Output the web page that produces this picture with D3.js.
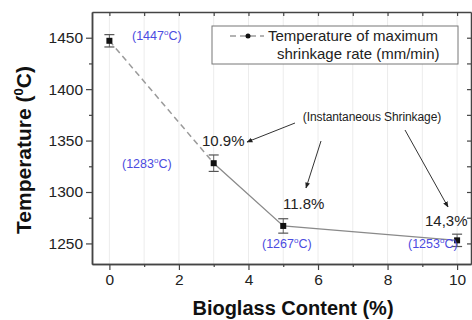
<!DOCTYPE html>
<html>
<head>
<meta charset="utf-8">
<script src="https://cdn.jsdelivr.net/npm/d3@7"></script>
<style>
  body { margin: 0; background: #fff; }
  text { font-family: "Liberation Sans", Arial, sans-serif; }
</style>
</head>
<body>
<script>
var width = 472,
    height = 320;

// data
var bioglass = [0, 3, 5, 10];
var temperature = [1447, 1328, 1267, 1253];
var errors = [6, 8, 7, 6];
var tempLabels = ['(1447', '(1283', '(1267', '(1253'];
var shrinkage = ['10.9%', '11.8%', '14,3%'];
var xTicks = [0, 2, 4, 6, 8, 10];
var yTicks = [1250, 1300, 1350, 1400, 1450];

var margin = {left: 92, top: 12, right: 1, bottom: 56};

var svg = d3.select('body')
  .append('svg')
  .attr('width', width)
  .attr('height', height);

var x = d3.scaleLinear()
  .domain([-0.5, 10.4])
  .range([margin.left, width - margin.right]);

var y = d3.scaleLinear()
  .domain([1230, 1475])
  .range([height - margin.bottom, margin.top]);

var axisColor = '#444';
var blue = '#4b4be0';

// faint grid
svg.append('g')
  .selectAll('line')
  .data(d3.range(0, 11, 1))
  .enter().append('line')
  .attr('x1', function(d) { return x(d); })
  .attr('x2', function(d) { return x(d); })
  .attr('y1', y.range()[0])
  .attr('y2', y.range()[1])
  .attr('stroke', '#ececec')
  .attr('stroke-width', 1);

// axes
svg.append('g')
  .attr('transform', 'translate(0,' + y.range()[0] + ')')
  .call(d3.axisBottom(x).tickValues(xTicks).tickSize(6).tickPadding(4).tickSizeOuter(0));
svg.append('g')
  .attr('transform', 'translate(0,' + y.range()[0] + ')')
  .call(d3.axisBottom(x).tickValues([1, 3, 5, 7, 9]).tickSize(3).tickFormat('').tickSizeOuter(0));

svg.append('g')
  .attr('transform', 'translate(' + margin.left + ',0)')
  .call(d3.axisLeft(y).tickValues(yTicks).tickSize(6).tickPadding(3).tickFormat(d3.format('d')).tickSizeOuter(0));
svg.append('g')
  .attr('transform', 'translate(' + margin.left + ',0)')
  .call(d3.axisLeft(y).tickValues([1275, 1325, 1375, 1425]).tickSize(3).tickFormat('').tickSizeOuter(0));

svg.append('g')
  .attr('transform', 'translate(0,' + margin.top + ')')
  .call(d3.axisTop(x).tickValues(d3.range(0, 11, 1)).tickSize(-4).tickFormat('').tickSizeOuter(0));
svg.append('g')
  .attr('transform', 'translate(' + (width - margin.right) + ',0)')
  .call(d3.axisRight(y).tickValues(d3.range(1250, 1475, 25)).tickSize(-4).tickFormat('').tickSizeOuter(0));

svg.selectAll('.domain').attr('stroke', axisColor).attr('stroke-width', 1.5);
svg.selectAll('.tick line').attr('stroke', axisColor).attr('stroke-width', 1.2);
svg.selectAll('.tick text')
  .attr('fill', '#222')
  .style('font-size', '15.5px')
  .style('font-family', '"Liberation Sans", Arial, sans-serif');

// axis titles
var yt = svg.append('text')
  .attr('transform', 'translate(31,' + 150 + ') rotate(-90)')
  .attr('text-anchor', 'middle')
  .style('font-size', '21px')
  .style('font-weight', 'bold')
  .attr('fill', '#111');
yt.append('tspan').text('Temperature (');
yt.append('tspan').attr('dy', -8).style('font-size', '13px').text('0');
yt.append('tspan').attr('dy', 8).text('C)');

svg.append('text')
  .attr('x', 293)
  .attr('y', 315)
  .attr('text-anchor', 'middle')
  .style('font-size', '20px')
  .style('font-weight', 'bold')
  .attr('fill', '#111')
  .text('Bioglass Content (%)');

// data lines
var pts = bioglass.map(function(d, i) { return [x(d), y(temperature[i])]; });

svg.append('path')
  .attr('d', d3.line()(pts.slice(0, 2)))
  .attr('fill', 'none')
  .attr('stroke', '#9a9a9a')
  .attr('stroke-width', 1.5)
  .attr('stroke-dasharray', '6,4');

svg.append('path')
  .attr('d', d3.line()(pts.slice(1)))
  .attr('fill', 'none')
  .attr('stroke', '#8a8a8a')
  .attr('stroke-width', 1.3);

// error bars
var eb = svg.append('g')
  .selectAll('g')
  .data(bioglass)
  .enter().append('g');
eb.append('line')
  .attr('x1', function(d) { return x(d); })
  .attr('x2', function(d) { return x(d); })
  .attr('y1', function(d, i) { return y(temperature[i] + errors[i]); })
  .attr('y2', function(d, i) { return y(temperature[i] - errors[i]); })
  .attr('stroke', '#666');
eb.selectAll('.cap')
  .data(function(d, i) { return [[d, temperature[i] + errors[i]], [d, temperature[i] - errors[i]]]; })
  .enter().append('line')
  .attr('x1', function(d) { return x(d[0]) - 5; })
  .attr('x2', function(d) { return x(d[0]) + 5; })
  .attr('y1', function(d) { return y(d[1]); })
  .attr('y2', function(d) { return y(d[1]); })
  .attr('stroke', '#555')
  .attr('stroke-width', 1.2);

// markers
svg.append('g')
  .selectAll('rect')
  .data(bioglass)
  .enter().append('rect')
  .attr('x', function(d) { return x(d) - 3; })
  .attr('y', function(d, i) { return y(temperature[i]) - 3; })
  .attr('width', 6)
  .attr('height', 6)
  .attr('fill', '#111');

// blue temperature labels
var labelPos = [[132, 40], [122, 168], [262, 248], [408, 248]];
tempLabels.forEach(function(t, i) {
  var tx = svg.append('text')
    .attr('x', labelPos[i][0])
    .attr('y', labelPos[i][1])
    .attr('fill', blue)
    .style('font-size', '12.5px');
  tx.append('tspan').text(t);
  tx.append('tspan').attr('dy', -5).style('font-size', '8px').text('o');
  tx.append('tspan').attr('dy', 5).text('C)');
});

// shrinkage labels
var shrinkPos = [[202, 146], [283, 209], [425, 226]];
shrinkage.forEach(function(t, i) {
  svg.append('text')
    .attr('x', shrinkPos[i][0])
    .attr('y', shrinkPos[i][1])
    .attr('fill', '#222')
    .style('font-size', '15px')
    .text(t);
});

svg.append('text')
  .attr('x', 372)
  .attr('y', 121)
  .attr('text-anchor', 'middle')
  .attr('fill', '#222')
  .style('font-size', '12px')
  .style('letter-spacing', '-0.1px')
  .text('(Instantaneous Shrinkage)');

// arrows
svg.append('defs').append('marker')
  .attr('id', 'arr')
  .attr('viewBox', '0 0 10 10')
  .attr('refX', 9).attr('refY', 5)
  .attr('markerWidth', 6).attr('markerHeight', 6)
  .attr('orient', 'auto')
  .append('path')
  .attr('d', 'M0,1L10,5L0,9z')
  .attr('fill', '#222');

var arrows = [[295, 123, 247, 142], [321, 141, 306, 188], [405, 130, 448, 207]];
arrows.forEach(function(a) {
  svg.append('line')
    .attr('x1', a[0]).attr('y1', a[1])
    .attr('x2', a[2]).attr('y2', a[3])
    .attr('stroke', '#333')
    .attr('stroke-width', 1)
    .attr('marker-end', 'url(#arr)');
});

// legend
var lg = svg.append('g');
lg.append('rect')
  .attr('x', 212).attr('y', 26)
  .attr('width', 246).attr('height', 38)
  .attr('fill', '#fff')
  .attr('stroke', '#777')
  .attr('stroke-width', 1);
lg.append('line')
  .attr('x1', 230).attr('x2', 264)
  .attr('y1', 36).attr('y2', 36)
  .attr('stroke', '#9a9a9a')
  .attr('stroke-width', 1.5)
  .attr('stroke-dasharray', '6,4');
lg.append('circle')
  .attr('cx', 248).attr('cy', 36).attr('r', 2.5)
  .attr('fill', '#111');
lg.append('text')
  .attr('x', 268).attr('y', 41)
  .attr('fill', '#222')
  .style('font-size', '15px')
  .text('Temperature of maximum');
lg.append('text')
  .attr('x', 277).attr('y', 59)
  .attr('fill', '#222')
  .style('font-size', '15px')
  .text('shrinkage rate (mm/min)');
</script>
</body>
</html>
